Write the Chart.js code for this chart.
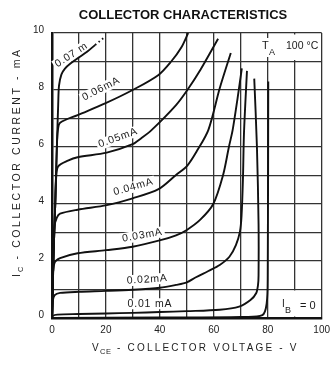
<!DOCTYPE html>
<html><head><meta charset="utf-8">
<script src="https://cdn.jsdelivr.net/npm/chart.js@4.4.1/dist/chart.umd.min.js"></script>
<style>html,body{margin:0;padding:0;background:#fff;}#wrap{width:336px;height:365px;}</style>
</head><body><div id="wrap"><canvas id="c" width="336" height="365"></canvas></div>
<script>
// ---- data ----
const voltageTicks = [0, 20, 40, 60, 80, 100];
const currentTicks = [0, 2, 4, 6, 8, 10];
const baseCurrentLabels = ['0.07 m', '0.06mA', '0.05mA', '0.04mA', '0.03mA', '0.02mA', '0.01 mA'];
const ib007 = [[0,0],[0.5,2],[1.2,4],[1.8,6],[2.3,7.5],[2.6,8.15],[3.5,8.55],[4.8,8.75],[6.5,8.9],[9.5,9.11],[13,9.34],[16,9.58]];
const ib007tail = [[16,9.58],[19.7,9.87]];
const ib006 = [[0,0],[0.5,2],[1.2,4],[1.8,6],[2.2,6.6],[3,6.85],[9.5,7.12],[19.7,7.53],[29.9,8.0],[39.5,8.53],[44.2,9.0],[48,9.5],[50.5,10]];
const ib005 = [[0,0],[0.5,2],[1.2,4],[1.6,5.0],[2.3,5.32],[5.9,5.52],[9.5,5.64],[20.3,5.8],[29.9,6.1],[33,6.3],[37,6.6],[46,7.47],[50.2,8.0],[55,8.7],[61.6,9.8]];
const ib004 = [[0,0],[0.5,2],[0.9,3.2],[1.8,3.52],[3,3.66],[9.5,3.8],[20.3,3.96],[29.9,4.2],[39.5,4.52],[46,5.02],[50.2,5.35],[54,5.9],[58,6.6],[62.2,8.06],[66.3,9.3]];
const ib003 = [[0,0],[0.4,1.5],[1,1.95],[3,2.1],[9.5,2.27],[20,2.38],[29.9,2.5],[40.6,2.74],[46,2.9],[50,3.09],[55,3.45],[59.8,4.0],[63.4,5.0],[65.6,6.0],[67,6.6],[68.8,7.7],[70.4,8.76]];
const ib002 = [[0,0],[0.3,0.6],[1,0.8],[3,0.88],[10,0.92],[20,0.95],[30,0.99],[40,1.06],[46,1.16],[50,1.25],[53.2,1.42],[58,1.65],[62.2,1.86],[65.8,2.15],[68.2,2.56],[69.7,3.03],[70.3,3.6],[70.8,4.84],[71.2,6.5],[72.3,8.67]];
const ib001 = [[0,0],[0.3,0.08],[2,0.12],[10,0.14],[20,0.16],[30,0.18],[40,0.21],[50,0.24],[62.2,0.29],[69.4,0.4],[73.6,0.63],[75.7,0.87],[76.4,1.16],[76.6,1.5],[76.6,3.3],[76,6],[75,8.4]];
const ib000 = [[0,0],[40,0.02],[70,0.04],[78,0.1],[79.6,0.5],[80,1.5],[80.2,8.3]];

// ---- layout of the annotations (data units) ----
const labelLayout = [
  {x:7.2, y:9.23, rot:-33},
  {x:18.2, y:8.04, rot:-27},
  {x:24.5, y:6.32, rot:-20},
  {x:30.2, y:4.6, rot:-16},
  {x:33.5, y:2.9, rot:-10},
  {x:35.3, y:1.35, rot:-4},
  {x:36.3, y:0.5, rot:0}
];

const toPts = a => a.map(p => ({x:p[0], y:p[1]}));
const lineStyle = {borderColor:'#111', borderWidth:1.9, pointRadius:0, fill:false, tension:0.3, showLine:true};
const curves = [ib007, ib006, ib005, ib004, ib003, ib002, ib001, ib000];
const datasets = curves.map(c => Object.assign({data: toPts(c)}, lineStyle));
datasets.push(Object.assign({data: toPts(ib007tail)}, lineStyle, {borderDash:[1.5,3], tension:0}));

const annot = {
  id: 'annot',
  beforeDatasetsDraw(chart) {
    const {ctx, scales:{x, y}} = chart;
    ctx.save();
    // IB = 0 box
    ctx.fillStyle = '#fff';
    ctx.fillRect(x.getPixelForValue(80)+1.5, y.getPixelForValue(1)+1, x.getPixelForValue(100)-x.getPixelForValue(80)-3, y.getPixelForValue(0)-y.getPixelForValue(1)-2.5);
    // TA box
    ctx.fillRect(x.getPixelForValue(81.5), y.getPixelForValue(10)+1.5, x.getPixelForValue(99)-x.getPixelForValue(81.5), y.getPixelForValue(9)-y.getPixelForValue(10)-3);
    // curve labels
    ctx.font = '10.5px "Liberation Sans", Arial, sans-serif';
    ctx.letterSpacing = '0.8px';
    ctx.textAlign = 'center';
    ctx.textBaseline = 'middle';
    baseCurrentLabels.forEach((t, i) => {
      const L = labelLayout[i];
      const px = x.getPixelForValue(L.x), py = y.getPixelForValue(L.y);
      ctx.save();
      ctx.translate(px, py);
      ctx.rotate(L.rot*Math.PI/180);
      const w = ctx.measureText(t).width;
      ctx.fillStyle = '#fff';
      ctx.fillRect(-w/2-2, -5.5, w+4, 11);
      ctx.fillStyle = '#1a1a1a';
      ctx.fillText(t, 0, 0);
      ctx.restore();
    });
    // T_A 100 °C
    ctx.letterSpacing = '0px';
    ctx.textAlign = 'left';
    ctx.fillStyle = '#fff';
    ctx.fillRect(261, 38, 14, 19);
    ctx.fillStyle = '#1a1a1a';
    ctx.font = '11px "Liberation Sans", Arial, sans-serif';
    ctx.fillText('T', 262, 46);
    ctx.font = '9px "Liberation Sans", Arial, sans-serif';
    ctx.fillText('A', 269, 53);
    ctx.font = '10.5px "Liberation Sans", Arial, sans-serif';
    ctx.fillText('100 °C', 286, 46);
    // I_B = 0
    ctx.font = '10px "Liberation Sans", Arial, sans-serif';
    ctx.fillText('I', 282, 304);
    ctx.font = '9px "Liberation Sans", Arial, sans-serif';
    ctx.fillText('B', 285, 311);
    ctx.font = '11px "Liberation Sans", Arial, sans-serif';
    ctx.fillText('= 0', 300, 306);
    ctx.restore();
  },
  afterDraw(chart) {
    const {ctx} = chart;
    ctx.save();
    ctx.fillStyle = '#111';
    ctx.textBaseline = 'middle';
    ctx.textAlign = 'center';
    ctx.font = 'bold 13px "Liberation Sans", Arial, sans-serif';
    ctx.fillText('COLLECTOR CHARACTERISTICS', 183, 15);
    // x title
    ctx.fillStyle = '#222';
    ctx.font = '10px "Liberation Sans", Arial, sans-serif';
    ctx.letterSpacing = '2.2px';
    ctx.textAlign = 'left';
    ctx.fillText('V', 92, 348);
    ctx.font = '7.5px "Liberation Sans", Arial, sans-serif';
    ctx.letterSpacing = '0.5px';
    ctx.fillText('CE', 100, 352);
    ctx.font = '10px "Liberation Sans", Arial, sans-serif';
    ctx.letterSpacing = '2.2px';
    ctx.fillText(' - COLLECTOR VOLTAGE - V', 112, 348);
    // y title
    ctx.translate(17, 277);
    ctx.rotate(-Math.PI/2);
    ctx.font = '10.5px "Liberation Sans", Arial, sans-serif';
    ctx.fillText('I', 0, 0);
    ctx.font = '7.5px "Liberation Sans", Arial, sans-serif';
    ctx.letterSpacing = '0.5px';
    ctx.fillText('C', 5, 4);
    ctx.font = '10.5px "Liberation Sans", Arial, sans-serif';
    ctx.letterSpacing = '2.6px';
    ctx.fillText(' - COLLECTOR CURRENT - mA', 12, 0);
    ctx.restore();
  }
};

new Chart(document.getElementById('c'), {
  type: 'scatter',
  data: {datasets},
  options: {
    responsive: false,
    animation: false,
    layout: {autoPadding: false, padding: {top: 33, right: 6, left: 0, bottom: 0}},
    plugins: {legend: {display: false}, tooltip: {enabled: false}},
    scales: {
      x: {
        type: 'linear', min: 0, max: 100,
        ticks: {stepSize: 10, autoSkip: false, maxRotation: 0, padding: 6, color: '#222',
          font: {family: '"Liberation Sans", Arial, sans-serif', size: 10},
          callback: v => voltageTicks.includes(v) ? String(v) : ''},
        grid: {color: '#333', lineWidth: 1.3, drawTicks: false},
        border: {color: '#111', width: 2.5},
        afterFit(s) { s.height = 47; }
      },
      y: {
        type: 'linear', min: 0, max: 10,
        ticks: {stepSize: 1, autoSkip: false, padding: 8, color: '#222', labelOffset: -3,
          font: {family: '"Liberation Sans", Arial, sans-serif', size: 10},
          callback: v => currentTicks.includes(v) ? String(v) : ''},
        grid: {color: '#333', lineWidth: 1.3, drawTicks: false},
        border: {color: '#111', width: 2.5},
        afterFit(s) { s.width = 52; }
      }
    }
  },
  plugins: [annot]
});
</script></body></html>
